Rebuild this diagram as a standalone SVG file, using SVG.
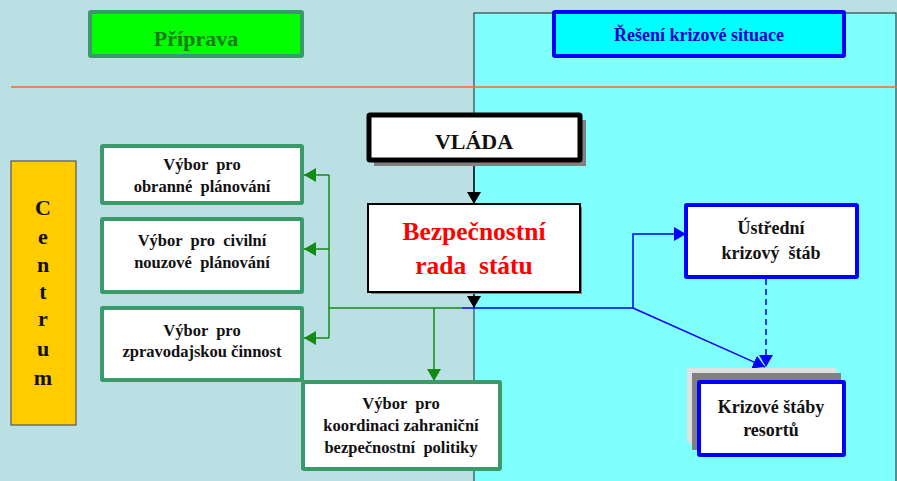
<svg xmlns="http://www.w3.org/2000/svg" width="897" height="481" viewBox="0 0 897 481">
<style>
text{font-family:"Liberation Serif","Times New Roman",serif;font-weight:bold;text-anchor:middle;white-space:pre}
.g{fill:#fff;stroke:#3A9A6A;stroke-width:4}
.b{fill:#fff;stroke:#0000FF;stroke-width:4}
.t{font-size:16.5px;fill:#111}
.u{font-size:18px;fill:#111}
.gl{stroke:#138A13;stroke-width:1.5;fill:none}
.bl{stroke:#0000FF;stroke-width:1.5;fill:none}
</style>
<defs>
<marker id="ag" viewBox="0 0 12 14" refX="12" refY="7" markerWidth="12" markerHeight="14" markerUnits="userSpaceOnUse" orient="auto"><path d="M0,0L12,7L0,14Z" fill="#138A13"/></marker>
<marker id="ab" viewBox="0 0 12 14" refX="12" refY="7" markerWidth="12" markerHeight="14" markerUnits="userSpaceOnUse" orient="auto"><path d="M0,0L12,7L0,14Z" fill="#0000FF"/></marker>
<marker id="ak" viewBox="0 0 12 14" refX="12" refY="7" markerWidth="12" markerHeight="14" markerUnits="userSpaceOnUse" orient="auto"><path d="M0,0L12,7L0,14Z" fill="#000"/></marker>
</defs>
<rect width="897" height="481" fill="#BAE0E4"/>
<rect x="474" y="13" width="422" height="470" fill="#80FFFF" stroke="#2A4A4A" stroke-width="1.2"/>
<line x1="11" y1="87" x2="897" y2="87" stroke="#F07020" stroke-width="1.5"/>

<g id="priprava">
<rect x="90" y="12" width="212" height="44" fill="#00FF00" stroke="#3A9A6A" stroke-width="4" rx="1"/>
<text x="196" y="46" font-size="22" fill="#1A7A1A">Příprava</text>
</g>
<g id="reseni">
<rect x="554" y="12" width="290" height="44" fill="#00FFFF" stroke="#0000FF" stroke-width="4" rx="1"/>
<text x="699" y="41" font-size="18" fill="#0000CC">Řešení krizové situace</text>
</g>

<g id="connectors">
<line x1="474" y1="160" x2="474" y2="204" stroke="#000" stroke-width="1.2" marker-end="url(#ak)"/>
<line x1="474" y1="293" x2="474" y2="308" stroke="#000" stroke-width="1.2" marker-end="url(#ak)"/>
<polyline class="gl" points="462,308 329,308"/>
<polyline class="gl" points="329,175 329,338"/>
<line class="gl" x1="329" y1="175" x2="304" y2="175" marker-end="url(#ag)"/>
<line class="gl" x1="329" y1="249" x2="304" y2="249" marker-end="url(#ag)"/>
<line class="gl" x1="329" y1="338" x2="304" y2="338" marker-end="url(#ag)"/>
<line class="gl" x1="434" y1="308" x2="434" y2="381" marker-end="url(#ag)"/>
<polyline class="bl" points="462,308 633,308 633,234 686,234" marker-end="url(#ab)"/>
<line class="bl" x1="633" y1="308" x2="765" y2="367" marker-end="url(#ab)"/>
<line class="bl" x1="766" y1="279" x2="766" y2="367" stroke-dasharray="6,4" marker-end="url(#ab)"/>
</g>

<g id="centrum">
<rect x="11" y="161" width="65" height="264" fill="#FFCC00" stroke="#555" stroke-width="1.2"/>
<g font-size="22" fill="#111">
<text x="43" y="215">C</text>
<text x="43" y="244">e</text>
<text x="43" y="272">n</text>
<text x="43" y="299">t</text>
<text x="43" y="326">r</text>
<text x="43" y="356">u</text>
<text x="43" y="385">m</text>
</g>
</g>

<g id="vlada">
<rect x="374" y="120" width="212" height="46" fill="#808080"/>
<rect x="369" y="115" width="211" height="45" fill="#fff" stroke="#000" stroke-width="5" rx="1"/>
<text x="474" y="149" font-size="22" fill="#111">VLÁDA</text>
</g>

<g id="brs">
<rect x="371" y="207" width="211" height="87" fill="#808080"/>
<rect x="368" y="204" width="212" height="88" fill="#fff" stroke="#000" stroke-width="2"/>
<text x="474" y="240" font-size="25.5" fill="#FF0000">Bezpečnostní</text>
<text x="474" y="274" font-size="25.5" fill="#FF0000">rada  státu</text>
</g>

<g id="vybor1">
<rect class="g" x="102" y="146" width="200" height="57" rx="1"/>
<text class="t" x="202" y="170">Výbor  pro</text>
<text class="t" x="202" y="192">obranné  plánování</text>
</g>
<g id="vybor2">
<rect class="g" x="102" y="219" width="200" height="73" rx="1"/>
<text class="t" x="202" y="246">Výbor  pro  civilní</text>
<text class="t" x="202" y="268">nouzové  plánování</text>
</g>
<g id="vybor3">
<rect class="g" x="102" y="308" width="200" height="72" rx="1"/>
<text class="t" x="202" y="336">Výbor  pro</text>
<text class="t" x="202" y="357">zpravodajskou činnost</text>
</g>
<g id="vybor4">
<rect class="g" x="303" y="382" width="197" height="87" rx="1"/>
<text class="t" x="401" y="409">Výbor  pro</text>
<text class="t" x="401" y="431">koordinaci zahraniční</text>
<text class="t" x="401" y="453">bezpečnostní  politiky</text>
</g>

<g id="ustredni">
<rect class="b" x="686" y="205" width="171" height="72" rx="1"/>
<text class="u" x="771" y="234">Ústřední</text>
<text class="u" x="771" y="259">krizový  štáb</text>
</g>

<g id="resorty">
<rect x="687" y="368" width="149" height="75" fill="#E0E0E0"/>
<rect x="692" y="373" width="149" height="77" fill="#808080"/>
<rect class="b" x="699" y="382" width="145" height="73" rx="1"/>
<text class="u" x="771" y="413">Krizové štáby</text>
<text class="u" x="771" y="436">resortů</text>
</g>
</svg>
